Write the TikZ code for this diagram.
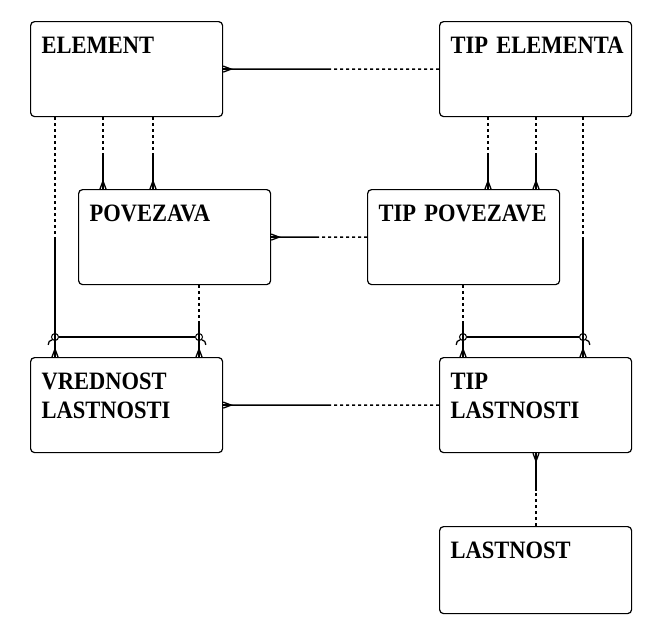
\documentclass[tikz,border=0pt]{standalone}
\usepackage{fontspec}
\setmainfont[FakeStretch=0.9]{Liberation Serif}
\usetikzlibrary{positioning,calc}
\tikzstyle{entity}=[draw, rounded corners=4pt, anchor=north west, text width=170pt,
                    align=left, inner xsep=11pt, inner ysep=17pt, text height=15pt,
                    text depth=46pt, line width=1.2pt,
                    font=\fontsize{25}{29}\selectfont\bfseries]
\tikzstyle{opt}=[draw, line width=1.3pt, dash pattern=on 3pt off 3pt]
\tikzstyle{man}=[draw, line width=1.3pt]
\tikzstyle{foot}=[draw, line width=1.3pt]
\tikzstyle{knot}=[circle, draw, inner sep=0pt, minimum size=7pt, line width=1pt]
% relationship: optional half at the parent, mandatory half and crow's foot at the child
\newcommand{\rel}[2]{%
  \path[opt] (#1) -- ($(#1)!0.5!(#2)$);
  \path[man] ($(#1)!0.5!(#2)$) -- (#2);
  \path[foot] ($(#2)!3pt!90:(#1)$) -- ($(#2)!8pt!(#1)$) -- ($(#2)!3pt!-90:(#1)$);
  \path[foot] (#2) -- ($(#2)!8pt!(#1)$);
}
\begin{document}
\begin{tikzpicture}[x=1pt, y=-1pt]
    \useasboundingbox (0,0) rectangle (647,622);
    \node[entity] (element)  at (30,21)   {ELEMENT};
    \node[entity] (tipel)    at (439,21)  {\mbox{TIP ELEMENTA}};
    \node[entity] (povezava) at (78,189)  {POVEZAVA};
    \node[entity] (tippov)   at (367,189) {\mbox{TIP POVEZAVE}};
    \node[entity] (vrednost) at (30,357)  {VREDNOST\\LASTNOSTI};
    \node[entity] (tiplast)  at (439,357) {TIP\\LASTNOSTI};
    \node[entity, text depth=38pt] (lastnost) at (439,526) {LASTNOST};
    % horizontal links
    \rel{tipel.west}{element.east}
    \rel{tippov.west}{povezava.east}
    \rel{tiplast.west}{vrednost.east}
    % element -> povezava
    \coordinate (e2) at ([xshift=73pt]element.south west);
    \coordinate (e3) at ([xshift=123pt]element.south west);
    \coordinate (p2) at ([xshift=25pt]povezava.north west);
    \coordinate (p3) at ([xshift=75pt]povezava.north west);
    \rel{e2}{p2}
    \rel{e3}{p3}
    % tip elementa -> tip povezave
    \coordinate (t2) at ([xshift=49pt]tipel.south west);
    \coordinate (t3) at ([xshift=97pt]tipel.south west);
    \coordinate (q2) at ([xshift=121pt]tippov.north west);
    \coordinate (q3) at ([xshift=169pt]tippov.north west);
    \rel{t2}{q2}
    \rel{t3}{q3}
    % arc on vrednost lastnosti
    \coordinate (e1) at ([xshift=25pt]element.south west);
    \coordinate (p1) at ([xshift=121pt]povezava.south west);
    \coordinate (v1) at ([xshift=25pt]vrednost.north west);
    \coordinate (v2) at ([xshift=169pt]vrednost.north west);
    \rel{e1}{v1}
    \rel{p1}{v2}
    \node[knot] (k1) at ([yshift=20pt]v1) {};
    \node[knot] (k2) at ([yshift=20pt]v2) {};
    \path[man] (k1) -- (k2);
    \path[foot] (k1.225) to[out=180, in=90] ++(-4pt,-5pt);
    \path[foot] (k2.-45) to[out=0, in=90] ++(4pt,-5pt);
    % arc on tip lastnosti
    \coordinate (t1) at ([xshift=144pt]tipel.south west);
    \coordinate (q1) at ([xshift=96pt]tippov.south west);
    \coordinate (w1) at ([xshift=24pt]tiplast.north west);
    \coordinate (w2) at ([xshift=144pt]tiplast.north west);
    \rel{q1}{w1}
    \rel{t1}{w2}
    \node[knot] (k3) at ([yshift=20pt]w1) {};
    \node[knot] (k4) at ([yshift=20pt]w2) {};
    \path[man] (k3) -- (k4);
    \path[foot] (k3.225) to[out=180, in=90] ++(-4pt,-5pt);
    \path[foot] (k4.-45) to[out=0, in=90] ++(4pt,-5pt);
    % lastnost -> tip lastnosti
    \coordinate (l1) at ([xshift=97pt]lastnost.north west);
    \coordinate (w3) at ([xshift=97pt]tiplast.south west);
    \rel{l1}{w3}
\end{tikzpicture}
\end{document}
